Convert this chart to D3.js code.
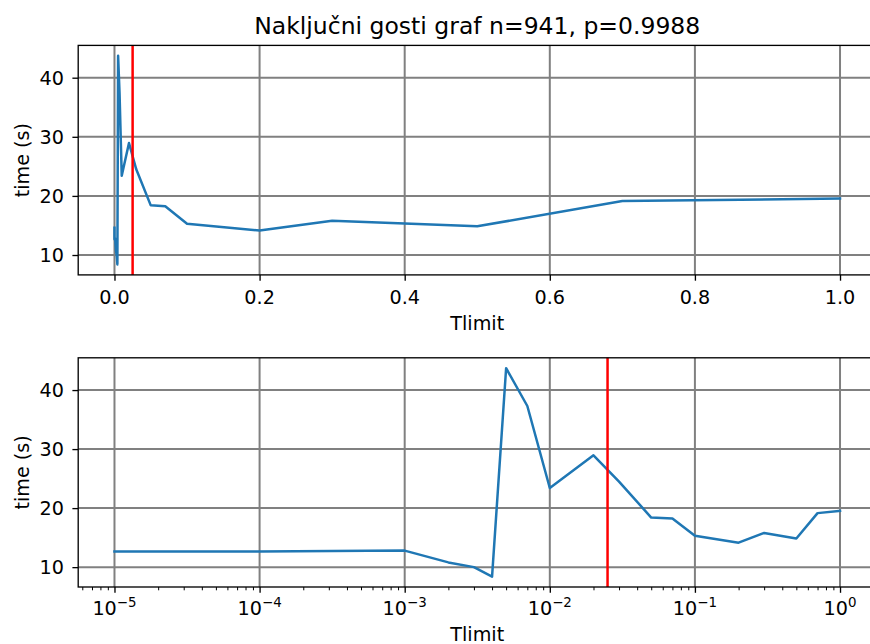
<!DOCTYPE html>
<html>
<head>
<meta charset="utf-8">
<script src="https://cdn.jsdelivr.net/npm/d3@7"></script>
<style>
  html, body { margin: 0; padding: 0; background: #fff; }
  svg { display: block; font-family: "DejaVu Sans", sans-serif; }
</style>
</head>
<body>
<svg id="chart" width="870" height="644"></svg>
<script>
// ---- data ----
const tlimit = [0, 1e-5, 1e-4, 1e-3, 2e-3, 3e-3, 4e-3, 5e-3, 7e-3, 1e-2, 2e-2, 3e-2, 5e-2, 7e-2, 0.1, 0.2, 0.3, 0.5, 0.7, 1.0];
const times  = [14.6, 12.65, 12.65, 12.8, 10.8, 10.0, 8.4, 43.7, 37.3, 23.4, 28.95, 24.5, 18.4, 18.25, 15.3, 14.15, 15.8, 14.85, 19.15, 19.55];
const redLineX = 0.025;
const yTickValues = [10, 20, 30, 40];
const xTicksLinear = [0, 0.2, 0.4, 0.6, 0.8, 1.0];
const xTicksLog = [1e-5, 1e-4, 1e-3, 1e-2, 1e-1, 1];
const titleText = "Naključni gosti graf n=941, p=0.9988";
const xLabel = "Tlimit";
const yLabel = "time (s)";

// ---- layout ----
const svg = d3.select("#chart");
const left = 78.2, right = 876.3;
const panels = [
  { top: 45.4, bottom: 274.9, type: "linear" },
  { top: 357.8, bottom: 587.0, type: "log" }
];
const tickLen = 5.8, fontSize = 19.2, supSize = 13.4, titleSize = 23.5;
const gridColor = "#808080";

const pts = tlimit.map((t, i) => ({ x: t, y: times[i] }));

// y domain with 5% margins like matplotlib
const [ymin, ymax] = d3.extent(times);
const yPad = (ymax - ymin) * 0.05;
const yDomain = [ymin - yPad, ymax + yPad];

panels.forEach((p, idx) => {
  const g = svg.append("g");
  const y = d3.scaleLinear().domain(yDomain).range([p.bottom, p.top]);
  let x, data;
  if (p.type === "linear") {
    const [a, b] = d3.extent(tlimit);
    const pad = (b - a) * 0.05;
    x = d3.scaleLinear().domain([a - pad, b + pad]).range([left, right]);
    data = pts;
  } else {
    data = pts.filter(d => d.x > 0);
    const [a, b] = d3.extent(data, d => d.x);
    const la = Math.log10(a), lb = Math.log10(b);
    const pad = (lb - la) * 0.05;
    x = d3.scaleLog().domain([Math.pow(10, la - pad), Math.pow(10, lb + pad)]).range([left, right]);
  }

  const clipId = "clip" + idx;
  svg.append("clipPath").attr("id", clipId).append("rect")
    .attr("x", left).attr("y", p.top).attr("width", right - left).attr("height", p.bottom - p.top);

  const xt = p.type === "linear" ? xTicksLinear : xTicksLog;

  // grid
  const grid = g.append("g").attr("clip-path", `url(#${clipId})`);
  grid.selectAll(".gx").data(xt).enter().append("line")
    .attr("x1", d => x(d)).attr("x2", d => x(d))
    .attr("y1", p.top).attr("y2", p.bottom)
    .attr("stroke", gridColor).attr("stroke-width", 2);
  grid.selectAll(".gy").data(yTickValues).enter().append("line")
    .attr("x1", left).attr("x2", right)
    .attr("y1", d => y(d)).attr("y2", d => y(d))
    .attr("stroke", gridColor).attr("stroke-width", 2);

  // data line
  const line = d3.line().x(d => x(d.x)).y(d => y(d.y));
  g.append("path").datum(data)
    .attr("clip-path", `url(#${clipId})`)
    .attr("d", line)
    .attr("fill", "none")
    .attr("stroke", "#1f77b4")
    .attr("stroke-width", 2.5)
    .attr("stroke-linejoin", "round")
    .attr("stroke-linecap", "square");

  // red vertical line
  g.append("line")
    .attr("x1", x(redLineX)).attr("x2", x(redLineX))
    .attr("y1", p.top).attr("y2", p.bottom)
    .attr("stroke", "#ff0000").attr("stroke-width", 2.5);

  // spines
  g.append("rect")
    .attr("x", left).attr("y", p.top)
    .attr("width", right - left).attr("height", p.bottom - p.top)
    .attr("fill", "none").attr("stroke", "#000").attr("stroke-width", 1.33);

  // x axis
  const xAxis = d3.axisBottom(x).tickValues(xt).tickSize(tickLen).tickSizeOuter(0).tickFormat("");
  const xg = g.append("g").attr("transform", `translate(0,${p.bottom})`).call(xAxis);
  xg.select(".domain").remove();
  xg.selectAll(".tick line").attr("stroke", "#000").attr("stroke-width", 1.33);

  if (p.type === "log") {
    const [d0, d1] = x.domain();
    const minor = [];
    for (let e = Math.floor(Math.log10(d0)); e <= Math.ceil(Math.log10(d1)); e++) {
      for (let m = 2; m <= 9; m++) {
        const v = m * Math.pow(10, e);
        if (v >= d0 && v <= d1) minor.push(v);
      }
    }
    const mAxis = d3.axisBottom(x).tickValues(minor).tickSize(3.3).tickSizeOuter(0).tickFormat("");
    const mg = g.append("g").attr("transform", `translate(0,${p.bottom})`).call(mAxis);
    mg.select(".domain").remove();
    mg.selectAll(".tick line").attr("stroke", "#000").attr("stroke-width", 1);

    // labels 10^e
    const lab = g.append("g");
    xt.forEach(v => {
      const e = Math.round(Math.log10(v));
      const t = lab.append("text")
        .attr("x", x(v)).attr("y", p.bottom + 28)
        .attr("text-anchor", "middle")
        .attr("font-size", fontSize).attr("fill", "#000");
      t.append("tspan").text("10");
      t.append("tspan").attr("font-size", supSize).attr("dy", -8)
        .text(String(e).replace("-", "\u2212"));
    });
    g.append("text")
      .attr("x", (left + right) / 2).attr("y", p.bottom + 54)
      .attr("text-anchor", "middle").attr("font-size", fontSize).text(xLabel);
  } else {
    const fmt = d3.format(".1f");
    g.append("g").selectAll("text").data(xt).enter().append("text")
      .attr("x", d => x(d)).attr("y", p.bottom + 29)
      .attr("text-anchor", "middle").attr("font-size", fontSize).attr("fill", "#000")
      .text(d => fmt(d));
    g.append("text")
      .attr("x", (left + right) / 2).attr("y", p.bottom + 55)
      .attr("text-anchor", "middle").attr("font-size", fontSize).text(xLabel);
  }

  // y axis
  const yAxis = d3.axisLeft(y).tickValues(yTickValues).tickSize(tickLen).tickSizeOuter(0).tickFormat("");
  const yg = g.append("g").attr("transform", `translate(${left},0)`).call(yAxis);
  yg.select(".domain").remove();
  yg.selectAll(".tick line").attr("stroke", "#000").attr("stroke-width", 1.33);
  g.append("g").selectAll("text").data(yTickValues).enter().append("text")
    .attr("x", 64).attr("y", d => y(d) + 7)
    .attr("text-anchor", "end").attr("font-size", fontSize).attr("fill", "#000")
    .text(d => d);

  const cy = (p.top + p.bottom) / 2;
  g.append("text")
    .attr("transform", `translate(28.5,${cy}) rotate(-90)`)
    .attr("text-anchor", "middle").attr("font-size", fontSize).text(yLabel);
});

// title
svg.append("text")
  .attr("x", (left + right) / 2).attr("y", 34)
  .attr("text-anchor", "middle").attr("font-size", titleSize).attr("fill", "#000")
  .text(titleText);
</script>
</body>
</html>
